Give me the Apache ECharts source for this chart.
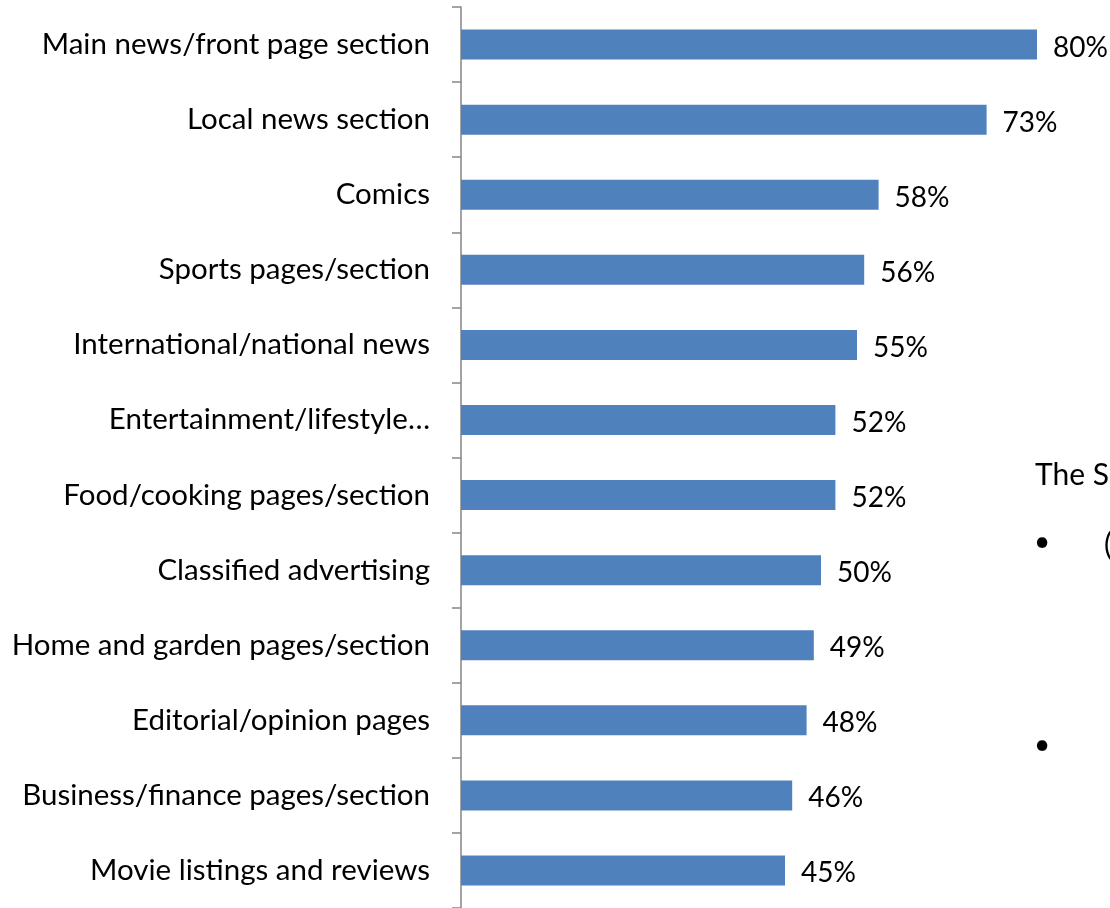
<!DOCTYPE html>
<html>
<head>
<meta charset="utf-8">
<script src="https://cdn.jsdelivr.net/npm/echarts@6/dist/echarts.min.js"></script>
<style>
html,body{margin:0;padding:0;background:#fff;}
#chart{width:1110px;height:908px;}
</style>
</head>
<body>
<div id="chart"></div>
<script>
const categories = [
  "Main news/front page section",
  "Local news section",
  "Comics",
  "Sports pages/section",
  "International/national news",
  "Entertainment/lifestyle…",
  "Food/cooking pages/section",
  "Classified advertising",
  "Home and garden pages/section",
  "Editorial/opinion pages",
  "Business/finance pages/section",
  "Movie listings and reviews"
];
const values = [80, 73, 58, 56, 55, 52, 52, 50, 49, 48, 46, 45];

const FONT = 'Lato';
const chart = echarts.init(document.getElementById('chart'));
chart.setOption({
  animation: false,
  textStyle: { fontFamily: FONT },
  grid: { left: 461, top: 7, width: 576, height: 904, containLabel: false },
  xAxis: { type: 'value', min: 0, max: 80, show: false },
  yAxis: {
    type: 'category',
    data: categories,
    inverse: true,
    axisLine: { show: true, lineStyle: { color: '#868686', width: 1.5 } },
    axisTick: { show: true, inside: false, length: 9, lineStyle: { color: '#868686', width: 1.5 } },
    axisLabel: { margin: 31, color: '#000', fontSize: 29.5, fontFamily: FONT, padding: [4, 0, 0, 0] },
    splitLine: { show: false }
  },
  series: [{
    type: 'bar',
    data: values,
    barWidth: 30,
    itemStyle: { color: '#4F81BD' },
    label: {
      show: true, position: 'right', distance: 16,
      formatter: '{c}%', color: '#000', fontSize: 28, fontFamily: FONT,
      offset: [0, 3]
    }
  }],
  graphic: [
    { type: 'text', left: 1035, top: 460, style: { text: 'The S', font: '30px ' + FONT, fill: '#000' } },
    { type: 'text', left: 1034, top: 528, style: { text: '•', font: '28px ' + FONT, fill: '#000' } },
    { type: 'text', left: 1034, top: 731, style: { text: '•', font: '28px ' + FONT, fill: '#000' } },
    { type: 'text', left: 1104, top: 530, style: { text: '(', font: '30px ' + FONT, fill: '#000' } }
  ]
});
</script>
</body>
</html>
